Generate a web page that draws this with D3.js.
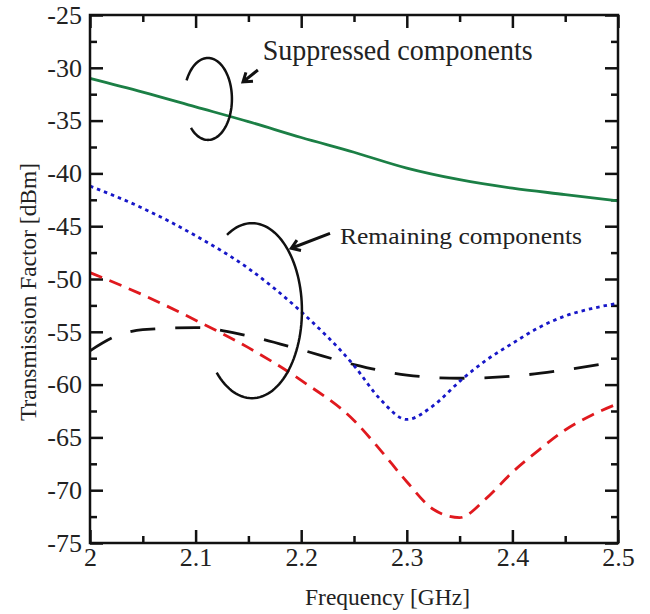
<!DOCTYPE html>
<html>
<head>
<meta charset="utf-8">
<script src="https://cdn.jsdelivr.net/npm/d3@7"></script>
<style>
  body { margin: 0; background: #fff; }
</style>
</head>
<body>
<div id="plot-container"></div>
<script>
// data (frequency in GHz, level in dBm)
var freqGreen = [2.0, 2.05, 2.1, 2.15, 2.2, 2.25, 2.3, 2.35, 2.4, 2.45, 2.5];
var suppressed = [-31.0, -32.3, -33.7, -35.1, -36.6, -38.0, -39.5, -40.6, -41.4, -42.0, -42.6];

var freqBlue = [2.0, 2.05, 2.1, 2.15, 2.2, 2.25, 2.275, 2.3, 2.325, 2.35, 2.375, 2.4, 2.425, 2.45, 2.475, 2.5];
var remainingBlue = [-41.2, -43.3, -45.9, -49.0, -53.1, -58.2, -61.4, -63.3, -62.0, -59.7, -57.7, -56.1, -54.6, -53.5, -52.8, -52.3];

var freqRed = [2.0, 2.05, 2.1, 2.15, 2.2, 2.25, 2.275, 2.3, 2.325, 2.35, 2.375, 2.4, 2.425, 2.45, 2.475, 2.5];
var remainingRed = [-49.4, -51.5, -53.9, -56.5, -59.6, -63.4, -66.2, -69.2, -71.8, -72.6, -70.8, -68.3, -66.2, -64.3, -62.9, -61.8];

var freqBlack = [2.0, 2.025, 2.05, 2.1, 2.15, 2.2, 2.25, 2.3, 2.35, 2.4, 2.45, 2.5];
var remainingBlack = [-56.8, -55.4, -54.8, -54.6, -55.4, -56.7, -58.1, -59.1, -59.4, -59.2, -58.6, -57.8];

var xTicks = [2, 2.1, 2.2, 2.3, 2.4, 2.5];
var xMinorTicks = [2.05, 2.15, 2.25, 2.35, 2.45];
var yTicks = [-75, -70, -65, -60, -55, -50, -45, -40, -35, -30, -25];
var yMinorTicks = [-72.5, -67.5, -62.5, -57.5, -52.5, -47.5, -42.5, -37.5, -32.5, -27.5];

var serif = "'Liberation Serif', 'Times New Roman', Times, serif";

function drawChart() {
  var margin = {top: 15, right: 32, bottom: 71, left: 90},
      width = 650 - margin.left - margin.right,
      height = 614 - margin.top - margin.bottom;

  var svg = d3.select("#plot-container")
      .append("svg")
      .attr("width", width + margin.left + margin.right)
      .attr("height", height + margin.top + margin.bottom)
      .append("g")
      .attr("font-family", serif)
      .attr("transform", "translate(" + margin.left + "," + margin.top + ")");

  var xScale = d3.scaleLinear().domain([2, 2.5]).range([0, width]);
  var yScale = d3.scaleLinear().domain([-75, -25]).range([height, 0]);

  // axes with inward ticks on all four sides
  function styleAxis(g) {
    g.attr("font-family", serif).attr("font-size", 26);
    g.select(".domain").remove();
    g.selectAll(".tick line").attr("stroke", "#111").attr("stroke-width", 2.5);
    g.selectAll("text").attr("fill", "#222");
  }

  svg.append("g")
     .attr("transform", "translate(0," + height + ")")
     .call(d3.axisBottom(xScale).tickValues(xTicks).tickSize(-13).tickPadding(5)
       .tickFormat(function(d) { return String(d); }))
     .call(styleAxis);
  svg.append("g")
     .attr("transform", "translate(0," + height + ")")
     .call(d3.axisBottom(xScale).tickValues(xMinorTicks).tickSize(-7).tickFormat(""))
     .call(styleAxis);
  svg.append("g")
     .call(d3.axisTop(xScale).tickValues(xTicks).tickSize(-13).tickFormat(""))
     .call(styleAxis);
  svg.append("g")
     .call(d3.axisTop(xScale).tickValues(xMinorTicks).tickSize(-7).tickFormat(""))
     .call(styleAxis);

  svg.append("g")
     .call(d3.axisLeft(yScale).tickValues(yTicks).tickSize(-13).tickPadding(8)
       .tickFormat(function(d) { return String(d); }))
     .call(styleAxis);
  svg.append("g")
     .call(d3.axisLeft(yScale).tickValues(yMinorTicks).tickSize(-7).tickFormat(""))
     .call(styleAxis);
  svg.append("g")
     .attr("transform", "translate(" + width + ",0)")
     .call(d3.axisRight(yScale).tickValues(yTicks).tickSize(-13).tickFormat(""))
     .call(styleAxis);
  svg.append("g")
     .attr("transform", "translate(" + width + ",0)")
     .call(d3.axisRight(yScale).tickValues(yMinorTicks).tickSize(-7).tickFormat(""))
     .call(styleAxis);

  // the curves
  var line = d3.line()
      .x(function(d) { return xScale(d[0]); })
      .y(function(d) { return yScale(d[1]); })
      .curve(d3.curveMonotoneX);

  var series = [
    {f: freqBlack, v: remainingBlack, color: "#111111", dash: "25,20"},
    {f: freqRed, v: remainingRed, color: "#e0191e", dash: "13,8"},
    {f: freqBlue, v: remainingBlue, color: "#1717c8", dash: "3.5,4"},
    {f: freqGreen, v: suppressed, color: "#1b7f45", dash: null}
  ];

  svg.selectAll(".curve")
     .data(series)
     .enter()
     .append("path")
     .attr("class", "curve")
     .attr("d", function(s) { return line(d3.zip(s.f, s.v)); })
     .attr("fill", "none")
     .attr("stroke", function(s) { return s.color; })
     .attr("stroke-width", 2.8)
     .attr("stroke-dasharray", function(s) { return s.dash; });

  // frame
  svg.append("rect")
     .attr("width", width)
     .attr("height", height)
     .attr("fill", "none")
     .attr("stroke", "#111")
     .attr("stroke-width", 2.5);

  // annotation rings and arrows (data units)
  var rings = [
    {cf: 2.1117, cv: -32.95, rf: 0.0227, rv: 3.88, a0: 207, a1: 496},
    {cf: 2.1534, cv: -53.0, rf: 0.0473, rv: 8.29, a0: 240, a1: 497}
  ];
  rings.forEach(function(r) {
    var pts = d3.range(r.a0, r.a1 + 1, 3).map(function(a) {
      var t = a * Math.PI / 180;
      return [xScale(r.cf + r.rf * Math.cos(t)), yScale(r.cv) + (yScale(r.cv - r.rv) - yScale(r.cv)) * Math.sin(t)];
    });
    svg.append("path")
       .attr("d", d3.line()(pts))
       .attr("fill", "none")
       .attr("stroke", "#111")
       .attr("stroke-width", 2.5);
  });

  var arrows = [
    {f0: 2.159, v0: -30.21, f1: 2.1449, v1: -31.34},
    {f0: 2.2273, v0: -45.67, f1: 2.1906, v1: -47.09}
  ];
  arrows.forEach(function(a) {
    var x0 = xScale(a.f0), y0 = yScale(a.v0), x1 = xScale(a.f1), y1 = yScale(a.v1);
    var ang = Math.atan2(y1 - y0, x1 - x0), len = 10, spread = 0.6;
    var h1 = [x1 - len * Math.cos(ang - spread), y1 - len * Math.sin(ang - spread)];
    var h2 = [x1 - len * Math.cos(ang + spread), y1 - len * Math.sin(ang + spread)];
    svg.append("path")
       .attr("d", "M" + x0 + "," + y0 + "L" + x1 + "," + y1 +
                  "M" + h1 + "L" + x1 + "," + y1 + "L" + h2)
       .attr("fill", "none")
       .attr("stroke", "#111")
       .attr("stroke-width", 3);
  });

  svg.append("text")
     .attr("x", xScale(2.1635))
     .attr("y", yScale(-29.3))
     .attr("textLength", 270)
     .attr("lengthAdjust", "spacingAndGlyphs")
     .attr("font-size", 30)
     .attr("fill", "#222")
     .text("Suppressed components");

  svg.append("text")
     .attr("x", xScale(2.2367))
     .attr("y", yScale(-46.7))
     .attr("textLength", 242)
     .attr("lengthAdjust", "spacingAndGlyphs")
     .attr("font-size", 23)
     .attr("fill", "#222")
     .text("Remaining components");

  // axis titles
  svg.append("text")
     .attr("x", 215)
     .attr("y", height + 62)
     .attr("textLength", 165)
     .attr("lengthAdjust", "spacingAndGlyphs")
     .attr("font-size", 23)
     .attr("fill", "#222")
     .text("Frequency [GHz]");

  svg.append("text")
     .attr("transform", "rotate(-90)")
     .attr("x", -(292 - margin.top))
     .attr("y", -54)
     .attr("textLength", 258)
     .attr("lengthAdjust", "spacingAndGlyphs")
     .attr("text-anchor", "middle")
     .attr("font-size", 23)
     .attr("fill", "#222")
     .text("Transmission Factor [dBm]");
}

drawChart();
</script>
</body>
</html>
